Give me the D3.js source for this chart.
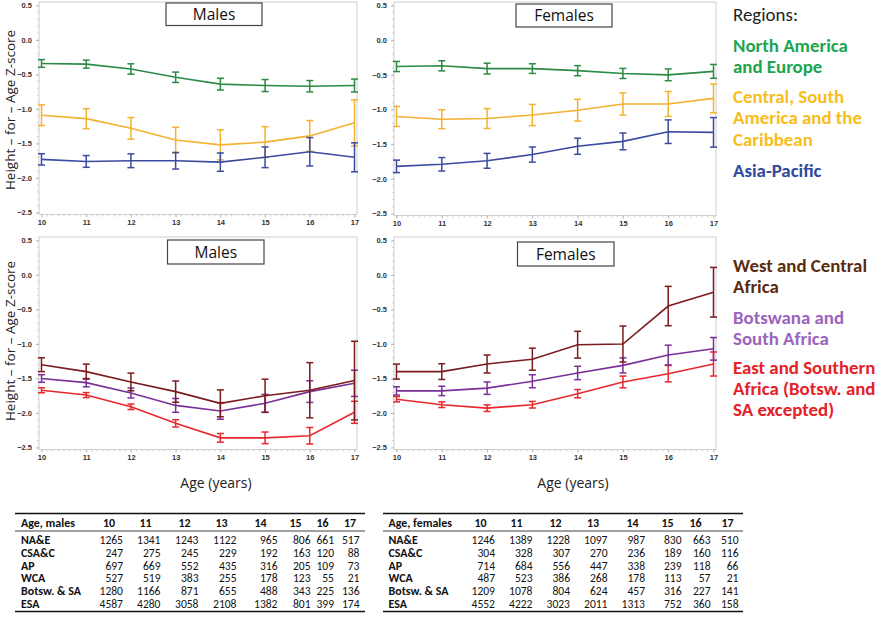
<!DOCTYPE html>
<html><head><meta charset="utf-8">
<script src="https://cdn.jsdelivr.net/npm/d3@7"></script>
<style>body{margin:0;background:#fff}svg{display:block}</style>
</head><body>
<svg id="c" width="875" height="625"></svg>
<script>
// ---------- DATA ----------
const ages = [10, 11, 12, 13, 14, 15, 16, 17];
const yTicks = [0.5, 0.0, -0.5, -1.0, -1.5, -2.0, -2.5];
const regionCodes = ["NA&E", "CSA&C", "AP", "WCA", "Botsw. & SA", "ESA"];

// Males – mean height-for-age Z-score and error half-width
const maleNAE = [-0.34, -0.35, -0.42, -0.54, -0.64, -0.66, -0.67, -0.66];
const maleNAEErr = [0.056, 0.058, 0.075, 0.075, 0.085, 0.087, 0.082, 0.094];
const maleCSAC = [-1.09, -1.14, -1.28, -1.45, -1.52, -1.48, -1.39, -1.20];
const maleCSACErr = [0.15, 0.145, 0.157, 0.186, 0.218, 0.223, 0.223, 0.334];
const maleAP = [-1.73, -1.76, -1.75, -1.75, -1.77, -1.70, -1.62, -1.70];
const maleAPErr = [0.082, 0.085, 0.10, 0.12, 0.133, 0.15, 0.206, 0.21];
const maleWCA = [-1.30, -1.40, -1.55, -1.69, -1.86, -1.75, -1.67, -1.53];
const maleWCAErr = [0.10, 0.108, 0.128, 0.154, 0.195, 0.24, 0.40, 0.57];
const maleBSA = [-1.50, -1.56, -1.71, -1.89, -1.97, -1.86, -1.69, -1.57];
const maleBSAErr = [0.055, 0.06, 0.072, 0.10, 0.12, 0.13, 0.157, 0.19];
const maleESA = [-1.67, -1.74, -1.91, -2.15, -2.36, -2.36, -2.33, -1.99];
const maleESAErr = [0.036, 0.036, 0.04, 0.053, 0.063, 0.084, 0.12, 0.16];

// Females
const femaleNAE = [-0.38, -0.37, -0.41, -0.41, -0.44, -0.48, -0.50, -0.45];
const femaleNAEErr = [0.073, 0.073, 0.078, 0.07, 0.073, 0.073, 0.085, 0.10];
const femaleCSAC = [-1.10, -1.14, -1.13, -1.08, -1.01, -0.92, -0.92, -0.84];
const femaleCSACErr = [0.145, 0.136, 0.143, 0.153, 0.157, 0.16, 0.18, 0.208];
const femaleAP = [-1.82, -1.79, -1.74, -1.65, -1.53, -1.46, -1.32, -1.33];
const femaleAPErr = [0.09, 0.097, 0.107, 0.109, 0.116, 0.121, 0.17, 0.213];
const femaleWCA = [-1.40, -1.40, -1.29, -1.22, -1.01, -1.00, -0.45, -0.25];
const femaleWCAErr = [0.109, 0.114, 0.13, 0.16, 0.194, 0.26, 0.285, 0.36];
const femaleBSA = [-1.68, -1.68, -1.64, -1.54, -1.42, -1.31, -1.16, -1.07];
const femaleBSAErr = [0.06, 0.068, 0.09, 0.094, 0.097, 0.109, 0.143, 0.164];
const femaleESA = [-1.80, -1.88, -1.93, -1.88, -1.72, -1.55, -1.43, -1.29];
const femaleESAErr = [0.039, 0.041, 0.048, 0.048, 0.06, 0.085, 0.119, 0.174];

// Sample sizes
const maleN_NAE = [1265, 1341, 1243, 1122, 965, 806, 661, 517];
const maleN_CSAC = [247, 275, 245, 229, 192, 163, 120, 88];
const maleN_AP = [697, 669, 552, 435, 316, 205, 109, 73];
const maleN_WCA = [527, 519, 383, 255, 178, 123, 55, 21];
const maleN_BSA = [1280, 1166, 871, 655, 488, 343, 225, 136];
const maleN_ESA = [4587, 4280, 3058, 2108, 1382, 801, 399, 174];
const femaleN_NAE = [1246, 1389, 1228, 1097, 987, 830, 663, 510];
const femaleN_CSAC = [304, 328, 307, 270, 236, 189, 160, 116];
const femaleN_AP = [714, 684, 556, 447, 338, 239, 118, 66];
const femaleN_WCA = [487, 523, 386, 268, 178, 113, 57, 21];
const femaleN_BSA = [1209, 1078, 804, 624, 457, 316, 227, 141];
const femaleN_ESA = [4552, 4222, 3023, 2011, 1313, 752, 360, 158];

const legendTop = ["North America|and Europe", "Central, South|America and the|Caribbean", "Asia-Pacific"];
const legendBottom = ["West and Central|Africa", "Botswana and|South Africa", "East and Southern|Africa (Botsw. and|SA excepted)"];

// ---------- STYLE ----------
const lineCol = {NAE:"#2b8a45", CSAC:"#f5b130", AP:"#3b4b9f", WCA:"#7a1b1d", BSA:"#7b2f98", ESA:"#e8282d"};
const legCol = ["#1aa54e", "#f8bd1b", "#2f4a9d", "#5b2b0f", "#9a64bd", "#e52027"];

const svg = d3.select("#c");
const FONT = "'Liberation Sans', Arial, sans-serif";
const LFONT = "Carlito, Calibri, Lato, 'Open Sans', sans-serif";

function panel(cfg) {
  const {fx0, fx1, fy0, fy1, title, tbox, series, xlab} = cfg;
  const x = d3.scaleLinear().domain([10, 17]).range([fx0 + 2.5, fx1 - 2.5]);
  const y = d3.scaleLinear().domain([-2.5, 0.5]).range([fy1 - 2, fy0 + 3.5]);
  const g = svg.append("g");
  g.append("rect").attr("x", fx0).attr("y", fy0).attr("width", fx1 - fx0).attr("height", fy1 - fy0)
    .attr("fill", "none").attr("stroke", "#cfcfcf").attr("stroke-width", 1);
  const yMinor = d3.range(-25, 6).map(v => v / 10);
  g.selectAll(".ym").data(yMinor).join("line")
    .attr("x1", fx0 - 2).attr("x2", fx0).attr("y1", d => y(d)).attr("y2", d => y(d))
    .attr("stroke", "#c8c8c8").attr("stroke-width", 0.8);
  const xm = d3.range(0, 57).map(i => 10 + i * 0.125);
  g.selectAll(".xm").data(xm).join("line")
    .attr("x1", d => x(d)).attr("x2", d => x(d)).attr("y1", fy1).attr("y2", fy1 + 2)
    .attr("stroke", "#c8c8c8").attr("stroke-width", 0.8);
  const yAxis = d3.axisLeft(y).tickValues(yTicks).tickFormat(d3.format(".1f")).tickSize(3);
  const ya = g.append("g").attr("transform", `translate(${fx0},0)`).call(yAxis);
  ya.select(".domain").remove();
  ya.selectAll("line").attr("stroke", "#bbb");
  ya.selectAll("text").attr("font-family", FONT).attr("font-size", 7.5).attr("font-weight", "bold")
    .attr("fill", "#333").attr("dx", "-1");
  const xAxis = d3.axisBottom(x).tickValues(ages).tickFormat(d3.format("d")).tickSize(3);
  const xa = g.append("g").attr("transform", `translate(0,${fy1})`).call(xAxis);
  xa.select(".domain").remove();
  xa.selectAll("line").attr("stroke", "#bbb");
  xa.selectAll("text").attr("font-family", FONT).attr("font-size", 7.5).attr("font-weight", "bold")
    .attr("fill", "#333").attr("dy", "0.6em");
  g.append("rect").attr("x", tbox[0]).attr("y", tbox[1]).attr("width", tbox[2]).attr("height", tbox[3])
    .attr("fill", "#fff").attr("stroke", "#444").attr("stroke-width", 1.2);
  g.append("text").attr("x", tbox[0] + tbox[2] / 2).attr("y", tbox[1] + tbox[3] / 2 + 5.5)
    .attr("text-anchor", "middle").attr("font-family", "'Open Sans', sans-serif").attr("font-size", 15.5)
    .attr("fill", "#111").text(title);
  const line = d3.line().x((d, i) => x(ages[i])).y(d => y(d));
  series.forEach(s => {
    const sg = g.append("g");
    sg.append("path").datum(s.v).attr("d", line).attr("fill", "none").attr("stroke", s.c).attr("stroke-width", 1.6);
    const eb = s.v.map((v, i) => ({a: ages[i], v, e: s.e[i]}));
    sg.selectAll(".eb").data(eb).join("line")
      .attr("x1", d => x(d.a)).attr("x2", d => x(d.a)).attr("y1", d => y(d.v - d.e)).attr("y2", d => y(d.v + d.e))
      .attr("stroke", s.c).attr("stroke-width", 1.5);
    [-1, 1].forEach(sign => {
      sg.selectAll(".cap" + sign).data(eb).join("line")
        .attr("x1", d => x(d.a) - 3.5).attr("x2", d => x(d.a) + 3.5)
        .attr("y1", d => y(d.v + sign * d.e)).attr("y2", d => y(d.v + sign * d.e))
        .attr("stroke", s.c).attr("stroke-width", 1.5);
    });
  });
  if (xlab) {
    g.append("text").attr("x", (fx0 + fx1) / 2 + 18).attr("y", fy1 + 38).attr("text-anchor", "middle")
      .attr("font-family", "'Open Sans', sans-serif").attr("font-size", 14).attr("fill", "#222").text("Age (years)");
  }
}

const topSeriesM = [
  {v: maleNAE, e: maleNAEErr, c: lineCol.NAE},
  {v: maleCSAC, e: maleCSACErr, c: lineCol.CSAC},
  {v: maleAP, e: maleAPErr, c: lineCol.AP}];
const topSeriesF = [
  {v: femaleNAE, e: femaleNAEErr, c: lineCol.NAE},
  {v: femaleCSAC, e: femaleCSACErr, c: lineCol.CSAC},
  {v: femaleAP, e: femaleAPErr, c: lineCol.AP}];
const botSeriesM = [
  {v: maleESA, e: maleESAErr, c: lineCol.ESA},
  {v: maleBSA, e: maleBSAErr, c: lineCol.BSA},
  {v: maleWCA, e: maleWCAErr, c: lineCol.WCA}];
const botSeriesF = [
  {v: femaleESA, e: femaleESAErr, c: lineCol.ESA},
  {v: femaleBSA, e: femaleBSAErr, c: lineCol.BSA},
  {v: femaleWCA, e: femaleWCAErr, c: lineCol.WCA}];

panel({fx0: 39, fx1: 357, fy0: 2, fy1: 214.5, title: "Males", tbox: [166, 3, 96, 22.5], series: topSeriesM});
panel({fx0: 394, fx1: 716, fy0: 2, fy1: 215.5, title: "Females", tbox: [516, 4, 96, 23], series: topSeriesF});
panel({fx0: 39, fx1: 357, fy0: 237, fy1: 449.5, title: "Males", tbox: [167.5, 240, 96.5, 24], series: botSeriesM, xlab: true});
panel({fx0: 394, fx1: 716, fy0: 237, fy1: 449.5, title: "Females", tbox: [517.5, 242, 96.5, 24], series: botSeriesF, xlab: true});

[[110, "Height – for – Age Z-score"], [341, "Height – for – Age Z-score"]].forEach(([cy, t]) => {
  svg.append("text").attr("transform", `translate(15,${cy}) rotate(-90)`).attr("text-anchor", "middle")
    .attr("font-family", "'Open Sans', sans-serif").attr("font-size", 13.5).attr("fill", "#222").text(t);
});

// measure helper: fit text to a target width (keeps fonts consistent regardless of fallback)
function fitWidth(sel, target) {
  const w = sel.node().getComputedTextLength();
  if (w > 0) {
    const fs = parseFloat(sel.attr("font-size"));
    sel.attr("font-size", (fs * target / w).toFixed(2));
  }
}

const regLbl = svg.append("text").attr("x", 733).attr("y", 21).attr("font-family", LFONT).attr("font-size", 17)
  .attr("fill", "#222").text("Regions:");
fitWidth(regLbl, 65);
// legend font size derived from a reference line width
const probe = svg.append("text").attr("font-family", LFONT).attr("font-size", 17).attr("font-weight", "bold").text("North America");
fitWidth(probe, 115);
const legFS = probe.attr("font-size");
probe.remove();
function legend(items, cols, baselines) {
  items.forEach((it, k) => {
    it.split("|").forEach((ln, j) => {
      svg.append("text").attr("x", 733).attr("y", baselines[k] + j * 21.3).attr("font-family", LFONT)
        .attr("font-size", legFS).attr("font-weight", "bold").attr("fill", cols[k]).text(ln);
    });
  });
}
legend(legendTop, legCol.slice(0, 3), [52, 103, 177]);
legend(legendBottom, legCol.slice(3), [272, 323.5, 373.5]);

// tables
const TFONT = "Carlito, Calibri, Lato, sans-serif";
const lp = svg.append("text").attr("font-family", TFONT).attr("font-size", 12).attr("font-weight", "bold").text("Botsw. & SA");
fitWidth(lp, 60);
const labFS = lp.attr("font-size"); lp.remove();
const np = svg.append("text").attr("font-family", TFONT).attr("font-size", 12).text("4587");
fitWidth(np, 23.5);
const numFS = Math.min(+np.attr("font-size"), 12.5); np.remove();

function table(cfg) {
  const {x0, x1, labX, valR, hdrR, head, rows} = cfg;
  const g = svg.append("g").attr("font-family", TFONT).attr("fill", "#111");
  g.append("line").attr("x1", x0).attr("x2", x1).attr("y1", 513.5).attr("y2", 513.5).attr("stroke", "#111").attr("stroke-width", 1.6);
  g.append("line").attr("x1", x0).attr("x2", x1).attr("y1", 531).attr("y2", 531).attr("stroke", "#111").attr("stroke-width", 0.8);
  g.append("line").attr("x1", x0).attr("x2", x1).attr("y1", 611.5).attr("y2", 611.5).attr("stroke", "#111").attr("stroke-width", 1.6);
  g.append("text").attr("x", labX).attr("y", 527).attr("font-weight", "bold").attr("font-size", labFS).text(head);
  ages.forEach((a, i) => g.append("text").attr("x", hdrR[i]).attr("y", 527).attr("text-anchor", "end")
    .attr("font-weight", "bold").attr("font-size", labFS).text(a));
  rows.forEach((r, k) => {
    const yy = 544 + k * 12.8;
    g.append("text").attr("x", labX).attr("y", yy).attr("font-weight", "bold").attr("font-size", labFS).text(regionCodes[k]);
    r.forEach((v, i) => g.append("text").attr("x", valR[i]).attr("y", yy).attr("text-anchor", "end")
      .attr("font-size", numFS).text(v));
  });
}
table({x0: 15, x1: 365, labX: 21, head: "Age, males",
  valR: [123, 160.5, 198.5, 236.5, 277.5, 310.5, 334, 359.5],
  hdrR: [115, 151.5, 190.5, 227.5, 266.5, 301.5, 328.5, 356],
  rows: [maleN_NAE, maleN_CSAC, maleN_AP, maleN_WCA, maleN_BSA, maleN_ESA]});
table({x0: 383, x1: 743, labX: 388.5, head: "Age, females",
  valR: [495, 532.5, 570, 607.5, 645, 681.5, 710.5, 738.5],
  hdrR: [486.5, 522.5, 561.5, 599, 638.5, 673.5, 701.5, 733.5],
  rows: [femaleN_NAE, femaleN_CSAC, femaleN_AP, femaleN_WCA, femaleN_BSA, femaleN_ESA]});
</script>
</body></html>
